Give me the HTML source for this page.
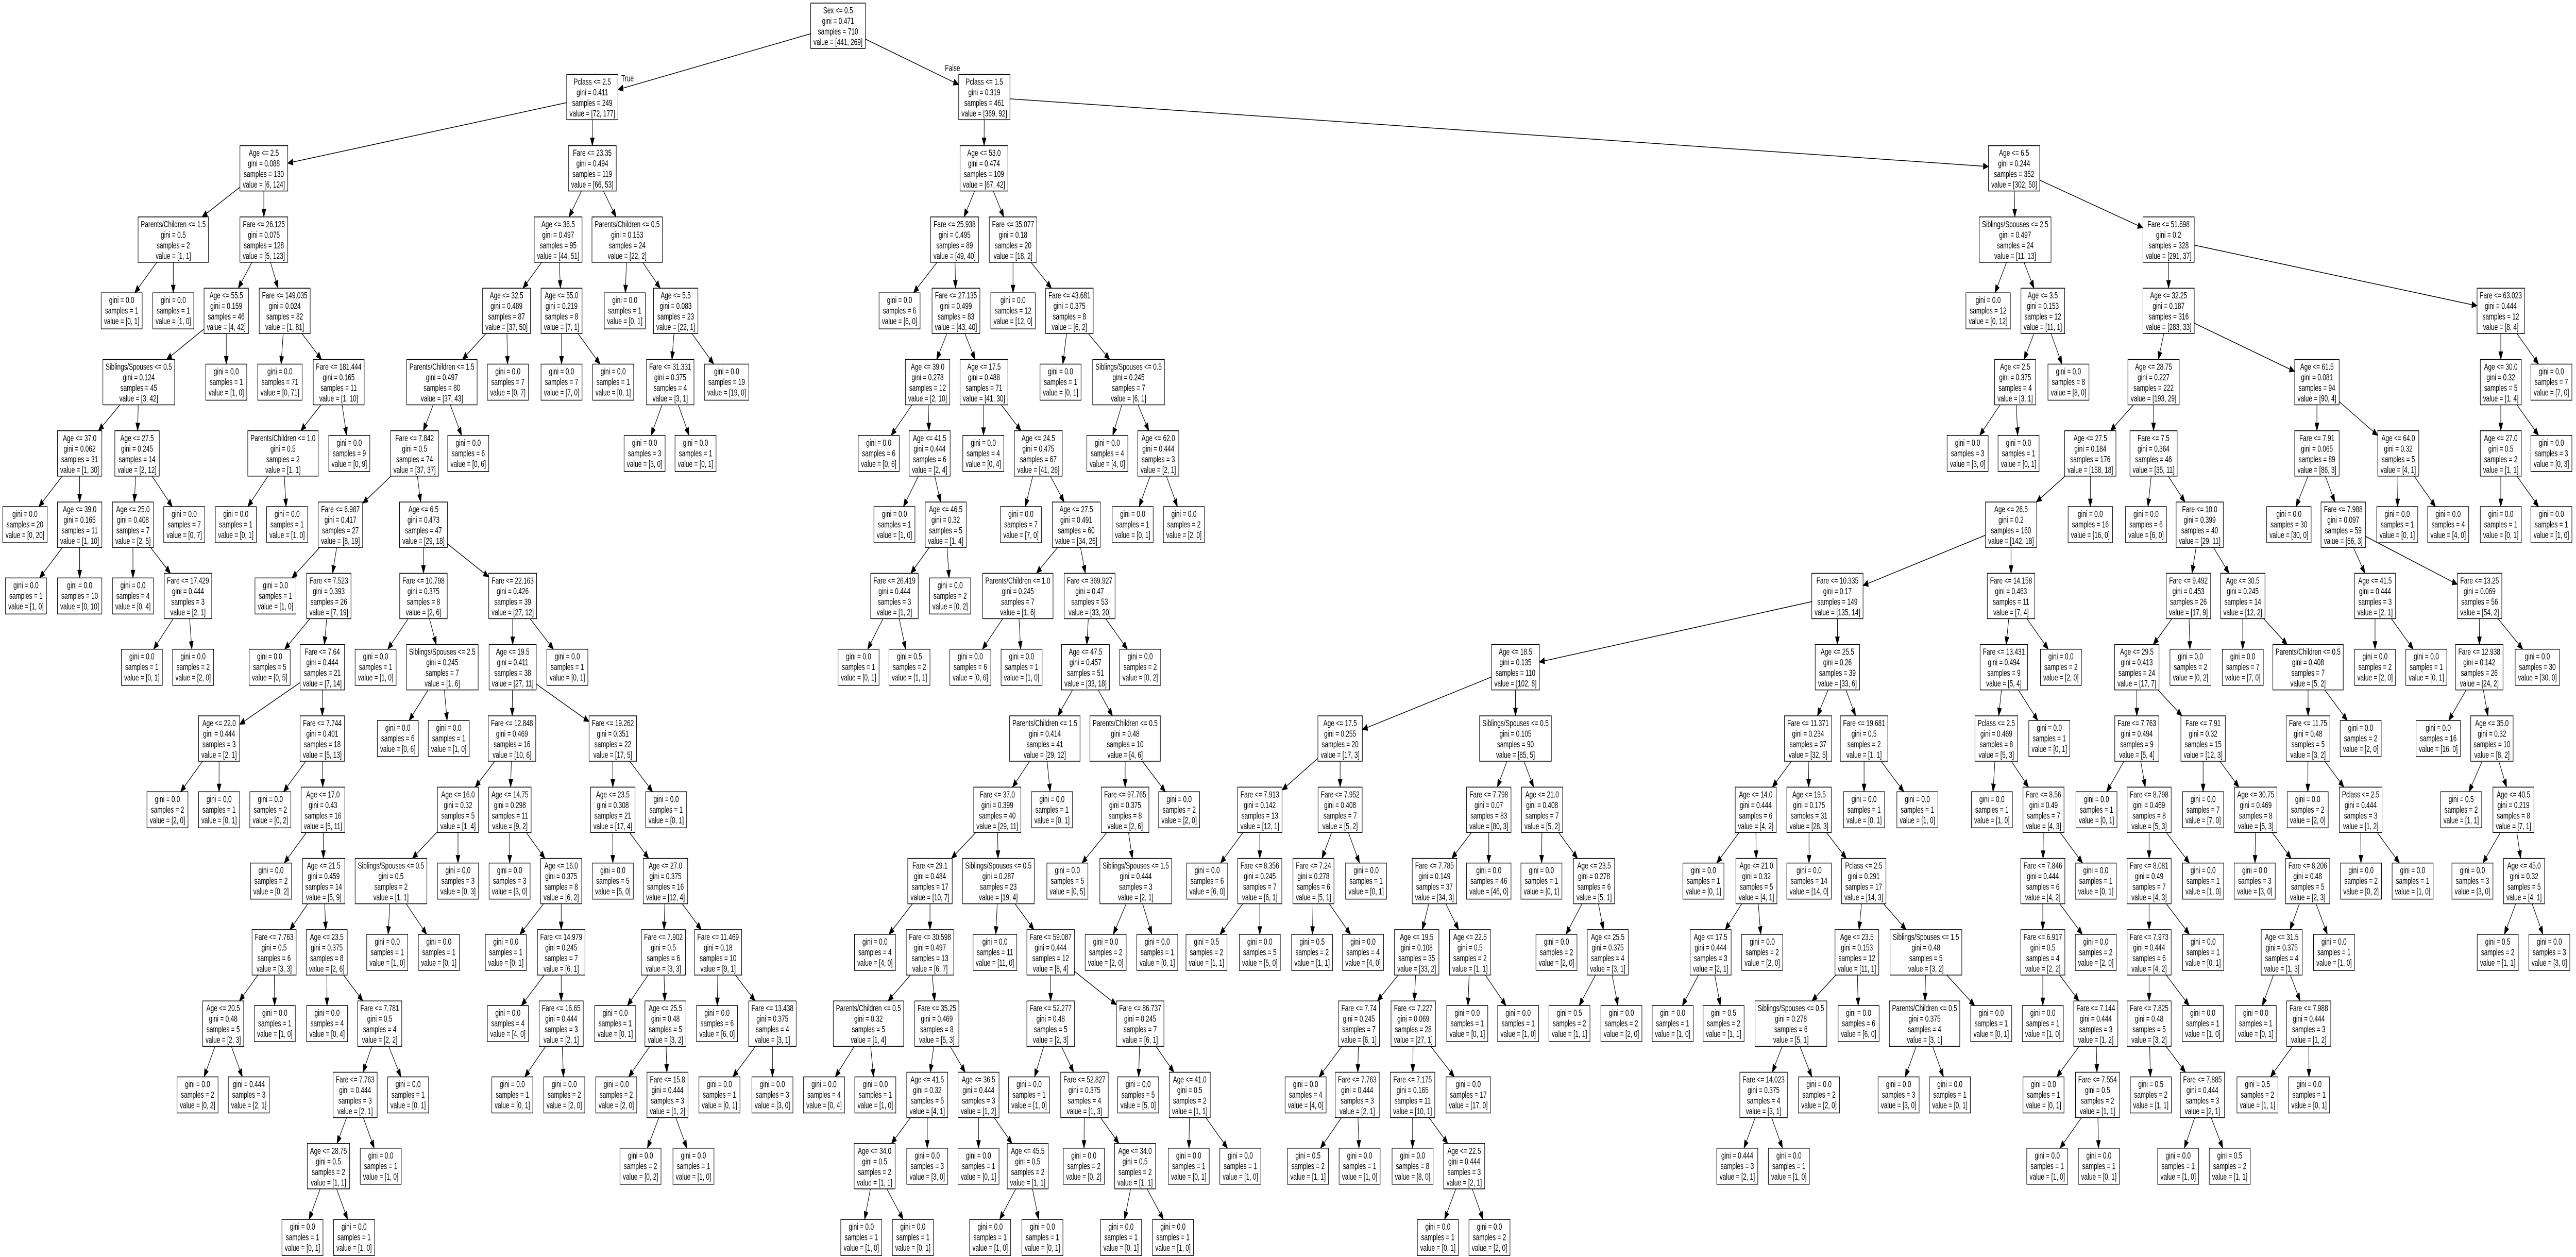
<!DOCTYPE html>
<html><head><meta charset="utf-8">
<style>
html,body{margin:0;padding:0;background:#fff;width:100%;height:100%;overflow:hidden;}
svg{display:block;position:fixed;left:0;top:0;width:100vw;height:100vh;}
text{font-family:"Liberation Sans",Arial,sans-serif;font-size:18px;fill:#000;}
</style></head>
<body>
<svg id="s" xmlns="http://www.w3.org/2000/svg" viewBox="0 0 7537 2439" preserveAspectRatio="none">
<rect x="0" y="0" width="7537" height="2439" fill="#fff"/>
<g id="E"></g><g id="N"></g>
<text x="1818" y="158">True</text>
<text x="2765" y="138">False</text>
</svg>
<script>
var A=function(o){return Math.round(o*1.212);};
var P=[];
function n(d,x,lab,g,s,v){P.push({d:d,x:x,lines:[lab,'gini = '+g,'samples = '+s,'value = ['+v+']']});}
function l(d,x,s,v,g){P.push({d:d,x:x,lines:['gini = '+(g||'0.0'),'samples = '+s,'value = ['+v+']']});}
n(0,2452,'Sex <= 0.5','0.471',710,'441, 269');
n(1,1733,'Pclass <= 2.5','0.411',249,'72, 177');
n(2,A(637),'Age <= 2.5','0.088',130,'6, 124');
n(3,A(418),'Parents/Children <= 1.5','0.5',2,'1, 1');
l(4,A(294),1,'0, 1');l(4,A(418),1,'1, 0');
n(3,A(637),'Fare <= 26.125','0.075',128,'5, 123');
n(4,A(546),'Age <= 55.5','0.159',46,'4, 42');
n(5,A(335),'Siblings/Spouses <= 0.5','0.124',45,'3, 42');
n(6,A(192),'Age <= 37.0','0.062',31,'1, 30');
l(7,A(60),20,'0, 20');
n(7,A(192),'Age <= 39.0','0.165',11,'1, 10');
l(8,A(63),1,'1, 0');l(8,A(192),10,'0, 10');
n(6,A(331),'Age <= 27.5','0.245',14,'2, 12');
n(7,A(321),'Age <= 25.0','0.408',7,'2, 5');
l(8,A(321),4,'0, 4');
n(8,A(454),'Fare <= 17.429','0.444',3,'2, 1');
l(9,A(342),1,'0, 1');l(9,A(466),2,'2, 0');
l(7,A(445),7,'0, 7');
l(5,A(546),1,'1, 0');
n(4,A(687),'Fare <= 149.035','0.024',82,'1, 81');
l(5,A(676),71,'0, 71');
n(5,A(818),'Fare <= 181.444','0.165',11,'1, 10');
n(6,A(683),'Parents/Children <= 1.0','0.5',2,'1, 1');
l(7,A(569),1,'0, 1');l(7,A(693),1,'1, 0');
l(6,A(843),9,'0, 9');
n(2,A(1430),'Fare <= 23.35','0.494',119,'66, 53');
n(3,A(1347),'Age <= 36.5','0.497',95,'44, 51');
n(4,A(1223),'Age <= 32.5','0.489',87,'37, 50');
n(5,A(1067),'Parents/Children <= 1.5','0.497',80,'37, 43');
n(6,A(1001),'Fare <= 7.842','0.5',74,'37, 37');
n(7,A(822),'Fare <= 6.987','0.417',27,'8, 19');
l(8,A(665),1,'1, 0');
n(8,A(794),'Fare <= 7.523','0.393',26,'7, 19');
l(9,A(651),5,'0, 5');
n(9,A(778),'Fare <= 7.64','0.444',21,'7, 14');
n(10,A(529),'Age <= 22.0','0.444',3,'2, 1');
l(11,A(404),2,'2, 0');l(11,A(529),1,'0, 1');
n(10,A(778),'Fare <= 7.744','0.401',18,'5, 13');
l(11,A(653),2,'0, 2');
n(11,A(780),'Age <= 17.0','0.43',16,'5, 11');
l(12,A(654),2,'0, 2');
n(12,A(781),'Age <= 21.5','0.459',14,'5, 9');
n(13,A(662),'Fare <= 7.763','0.5',6,'3, 3');
n(14,A(539),'Age <= 20.5','0.48',5,'2, 3');
l(15,A(477),2,'0, 2');l(15,A(601),3,'2, 1','0.444');
l(14,A(663),1,'1, 0');
n(13,A(789),'Age <= 23.5','0.375',8,'2, 6');
l(14,A(790),4,'0, 4');
n(14,A(917),'Fare <= 7.781','0.5',4,'2, 2');
n(15,A(857),'Fare <= 7.763','0.444',3,'2, 1');
n(16,A(793),'Age <= 28.75','0.5',2,'1, 1');
l(17,A(730),1,'0, 1');l(17,A(855),1,'1, 0');
l(16,A(919),1,'1, 0');
l(15,A(985),1,'0, 1');
n(7,A(1022),'Age <= 6.5','0.473',47,'29, 18');
n(8,A(1022),'Fare <= 10.798','0.375',8,'2, 6');
l(9,A(907),1,'1, 0');
n(9,A(1068),'Siblings/Spouses <= 2.5','0.245',7,'1, 6');
l(10,A(960),6,'0, 6');l(10,A(1083),1,'1, 0');
n(8,A(1238),'Fare <= 22.163','0.426',39,'27, 12');
n(9,A(1238),'Age <= 19.5','0.411',38,'27, 11');
n(10,A(1236),'Fare <= 12.848','0.469',16,'10, 6');
n(11,A(1106),'Age <= 16.0','0.32',5,'1, 4');
n(12,A(944),'Siblings/Spouses <= 0.5','0.5',2,'1, 1');
l(13,A(935),1,'1, 0');l(13,A(1059),1,'0, 1');
l(12,A(1106),3,'0, 3');
n(11,A(1231),'Age <= 14.75','0.298',11,'9, 2');
l(12,A(1230),3,'3, 0');
n(12,A(1355),'Age <= 16.0','0.375',8,'6, 2');
l(13,A(1221),1,'0, 1');
n(13,A(1355),'Fare <= 14.979','0.245',7,'6, 1');
l(14,A(1226),4,'4, 0');
n(14,A(1355),'Fare <= 16.65','0.444',3,'2, 1');
l(15,A(1237),1,'0, 1');l(15,A(1362),2,'2, 0');
n(10,A(1479),'Fare <= 19.262','0.351',22,'17, 5');
n(11,A(1479),'Age <= 23.5','0.308',21,'17, 4');
l(12,A(1479),5,'5, 0');
n(12,1947,'Age <= 27.0','0.375',16,'12, 4');
n(13,1941,'Fare <= 7.902','0.5',6,'3, 3');
l(14,1800,1,'0, 1');
n(14,1947,'Age <= 25.5','0.48',5,'3, 2');
l(15,1803,2,'2, 0');
n(15,1953,'Fare <= 15.8','0.444',3,'1, 2');
l(16,1874,2,'0, 2');l(16,2029,1,'1, 0');
n(13,2101,'Fare <= 11.469','0.18',10,'9, 1');
l(14,2098,6,'6, 0');
n(14,2260,'Fare <= 13.438','0.375',4,'3, 1');
l(15,2105,1,'0, 1');l(15,2260,3,'3, 0');
l(11,1949,1,'0, 1');
l(9,A(1370),1,'0, 1');
l(6,A(1130),6,'0, 6');
l(5,A(1226),7,'0, 7');
n(4,A(1356),'Age <= 55.0','0.219',8,'7, 1');
l(5,A(1356),7,'7, 0');l(5,A(1480),1,'0, 1');
n(3,1835,'Parents/Children <= 0.5','0.153',24,'22, 2');
l(4,1828,1,'0, 1');
n(4,1977,'Age <= 5.5','0.083',23,'22, 1');
n(5,1961,'Fare <= 31.331','0.375',4,'3, 1');
l(6,1886,3,'3, 0');l(6,2035,1,'0, 1');
l(5,2126,19,'19, 0');
n(1,2880,'Pclass <= 1.5','0.319',461,'369, 92');
n(2,2879,'Age <= 53.0','0.474',109,'67, 42');
n(3,2793,'Fare <= 25.938','0.495',89,'49, 40');
l(4,2632,6,'6, 0');
n(4,2797,'Fare <= 27.135','0.499',83,'43, 40');
n(5,2714,'Age <= 39.0','0.278',12,'2, 10');
l(6,2571,6,'0, 6');
n(6,2720,'Age <= 41.5','0.444',6,'2, 4');
l(7,2617,1,'1, 0');
n(7,2767,'Age <= 46.5','0.32',5,'1, 4');
n(8,2617,'Fare <= 26.419','0.444',3,'1, 2');
l(9,2512,1,'0, 1');l(9,2661,2,'1, 1','0.5');
l(8,2780,2,'0, 2');
n(5,2879,'Age <= 17.5','0.488',71,'41, 30');
l(6,2877,4,'0, 4');
n(6,3038,'Age <= 24.5','0.475',67,'41, 26');
l(7,2987,7,'7, 0');
n(7,3149,'Age <= 27.5','0.491',60,'34, 26');
n(8,2978,'Parents/Children <= 1.0','0.245',7,'1, 6');
l(9,2839,6,'0, 6');l(9,2989,1,'1, 0');
n(8,3188,'Fare <= 369.927','0.47',53,'33, 20');
n(9,3176,'Age <= 47.5','0.457',51,'33, 18');
n(10,3057,'Parents/Children <= 1.5','0.414',41,'29, 12');
n(11,2918,'Fare <= 37.0','0.399',40,'29, 11');
n(12,2721,'Fare <= 29.1','0.484',17,'10, 7');
l(13,2560,4,'4, 0');
n(13,2721,'Fare <= 30.598','0.497',13,'6, 7');
n(14,2541,'Parents/Children <= 0.5','0.32',5,'1, 4');
l(15,2411,4,'0, 4');l(15,2561,1,'1, 0');
n(14,2741,'Fare <= 35.25','0.469',8,'5, 3');
n(15,2713,'Age <= 41.5','0.32',5,'4, 1');
n(16,2559,'Age <= 34.0','0.5',2,'1, 1');
l(17,2520,1,'1, 0');l(17,2671,1,'0, 1');
l(16,2713,3,'3, 0');
n(15,2863,'Age <= 36.5','0.444',3,'1, 2');
l(16,2863,1,'0, 1');
n(16,3007,'Age <= 45.5','0.5',2,'1, 1');
l(17,2897,1,'1, 0');l(17,3050,1,'0, 1');
n(12,2921,'Siblings/Spouses <= 0.5','0.287',23,'19, 4');
l(13,2911,11,'11, 0');
n(13,3074,'Fare <= 59.087','0.444',12,'8, 4');
n(14,3074,'Fare <= 52.277','0.48',5,'2, 3');
l(15,3011,1,'1, 0');
n(15,3173,'Fare <= 52.827','0.375',4,'1, 3');
l(16,3171,2,'0, 2');
n(16,3321,'Age <= 34.0','0.5',2,'1, 1');
l(17,3280,1,'0, 1');l(17,3432,1,'1, 0');
n(14,3336,'Fare <= 86.737','0.245',7,'6, 1');
l(15,3330,5,'5, 0');
n(15,3481,'Age <= 41.0','0.5',2,'1, 1');
l(16,3478,1,'0, 1');l(16,3629,1,'1, 0');
l(11,3078,1,'0, 1');
n(10,3292,'Parents/Children <= 0.5','0.48',10,'4, 6');
n(11,3292,'Fare <= 97.765','0.375',8,'2, 6');
l(12,3123,5,'0, 5');
n(12,3323,'Siblings/Spouses <= 1.5','0.444',3,'2, 1');
l(13,3235,2,'2, 0');l(13,3386,1,'0, 1');
l(11,3450,2,'2, 0');
l(9,3336,2,'0, 2');
n(3,2964,'Fare <= 35.077','0.18',20,'18, 2');
l(4,2964,12,'12, 0');
n(4,3129,'Fare <= 43.681','0.375',8,'6, 2');
l(5,3103,1,'0, 1');
n(5,3302,'Siblings/Spouses <= 0.5','0.245',7,'6, 1');
l(6,3240,4,'4, 0');
n(6,3389,'Age <= 62.0','0.444',3,'2, 1');
l(7,3314,1,'0, 1');l(7,3464,2,'2, 0');
n(2,5893,'Age <= 6.5','0.244',352,'302, 50');
n(3,5896,'Siblings/Spouses <= 2.5','0.497',24,'11, 13');
l(4,5817,12,'0, 12');
n(4,5977,'Age <= 3.5','0.153',12,'11, 1');
n(5,5896,'Age <= 2.5','0.375',4,'3, 1');
l(6,5757,3,'3, 0');l(6,5906,1,'0, 1');
l(5,6052,8,'8, 0');
n(3,6345,'Fare <= 51.698','0.2',328,'291, 37');
n(4,6345,'Age <= 32.25','0.187',316,'283, 33');
n(5,6301,'Age <= 28.75','0.227',222,'193, 29');
n(6,6116,'Age <= 27.5','0.184',176,'158, 18');
n(7,5884,'Age <= 26.5','0.2',160,'142, 18');
n(8,5376,'Fare <= 10.335','0.17',149,'135, 14');
n(9,4434,'Age <= 18.5','0.135',110,'102, 8');
n(10,3921,'Age <= 17.5','0.255',20,'17, 3');
n(11,3686,'Fare <= 7.913','0.142',13,'12, 1');
l(12,3532,6,'6, 0');
n(12,3686,'Fare <= 8.356','0.245',7,'6, 1');
l(13,3530,2,'1, 1','0.5');l(13,3686,5,'5, 0');
n(11,3921,'Fare <= 7.952','0.408',7,'5, 2');
n(12,3843,'Fare <= 7.24','0.278',6,'5, 1');
l(13,3839,2,'1, 1','0.5');l(13,3988,4,'4, 0');
l(12,3997,1,'0, 1');
n(10,4434,'Siblings/Spouses <= 0.5','0.105',90,'85, 5');
n(11,4356,'Fare <= 7.798','0.07',83,'80, 3');
n(12,4197,'Fare <= 7.785','0.149',37,'34, 3');
n(13,4145,'Age <= 19.5','0.108',35,'33, 2');
n(14,3976,'Fare <= 7.74','0.245',7,'6, 1');
l(15,3820,4,'4, 0');
n(15,3971,'Fare <= 7.763','0.444',3,'2, 1');
l(16,3827,2,'1, 1','0.5');l(16,3978,1,'1, 0');
n(14,4135,'Fare <= 7.227','0.069',28,'27, 1');
n(15,4133,'Fare <= 7.175','0.165',11,'10, 1');
l(16,4133,8,'8, 0');
n(16,4284,'Age <= 22.5','0.444',3,'2, 1');
l(17,4207,1,'0, 1');l(17,4358,2,'2, 0');
l(15,4296,17,'17, 0');
n(13,4301,'Age <= 22.5','0.5',2,'1, 1');
l(14,4293,1,'0, 1');l(14,4442,1,'1, 0');
l(12,4356,46,'46, 0');
n(11,4512,'Age <= 21.0','0.408',7,'5, 2');
l(12,4510,1,'0, 1');
n(12,4664,'Age <= 23.5','0.278',6,'5, 1');
l(13,4554,2,'2, 0');
n(13,4704,'Age <= 25.5','0.375',4,'3, 1');
l(14,4592,2,'1, 1','0.5');l(14,4744,2,'2, 0');
n(9,5376,'Age <= 25.5','0.26',39,'33, 6');
n(10,5290,'Fare <= 11.371','0.234',37,'32, 5');
n(11,5137,'Age <= 14.0','0.444',6,'4, 2');
l(12,4984,1,'0, 1');
n(12,5139,'Age <= 21.0','0.32',5,'4, 1');
n(13,5005,'Age <= 17.5','0.444',3,'2, 1');
l(14,4894,1,'1, 0');l(14,5043,2,'1, 1','0.5');
l(13,5156,2,'2, 0');
n(11,5293,'Age <= 19.5','0.175',31,'28, 3');
l(12,5293,14,'14, 0');
n(12,5453,'Pclass <= 2.5','0.291',17,'14, 3');
n(13,5433,'Age <= 23.5','0.153',12,'11, 1');
n(14,5240,'Siblings/Spouses <= 0.5','0.278',6,'5, 1');
n(15,5160,'Fare <= 14.023','0.375',4,'3, 1');
l(16,5083,3,'2, 1','0.444');l(16,5234,1,'1, 0');
l(15,5322,2,'2, 0');
l(14,5438,6,'6, 0');
n(13,5635,'Siblings/Spouses <= 1.5','0.48',5,'3, 2');
n(14,5631,'Parents/Children <= 0.5','0.375',4,'3, 1');
l(15,5555,3,'3, 0');l(15,5705,1,'0, 1');
l(14,5826,1,'0, 1');
n(10,5454,'Fare <= 19.681','0.5',2,'1, 1');
l(11,5454,1,'0, 1');l(11,5610,1,'1, 0');
n(8,5884,'Fare <= 14.158','0.463',11,'7, 4');
n(9,5863,'Fare <= 13.431','0.494',9,'5, 4');
n(10,5841,'Pclass <= 2.5','0.469',8,'5, 3');
l(11,5828,1,'1, 0');
n(11,5979,'Fare <= 8.56','0.49',7,'4, 3');
n(12,5977,'Fare <= 7.846','0.444',6,'4, 2');
n(13,5977,'Fare <= 6.917','0.5',4,'2, 2');
l(14,5977,1,'1, 0');
n(14,6132,'Fare <= 7.144','0.444',3,'1, 2');
l(15,5979,1,'0, 1');
n(15,6137,'Fare <= 7.554','0.5',2,'1, 1');
l(16,5990,1,'1, 0');l(16,6141,1,'0, 1');
l(13,6132,2,'2, 0');
l(12,6132,1,'0, 1');
l(10,5996,1,'0, 1');
l(9,6030,2,'2, 0');
l(7,6116,16,'16, 0');
n(6,6301,'Fare <= 7.5','0.364',46,'35, 11');
l(7,6279,6,'6, 0');
n(7,6436,'Fare <= 10.0','0.399',40,'29, 11');
n(8,6403,'Fare <= 9.492','0.453',26,'17, 9');
n(9,6252,'Age <= 29.5','0.413',24,'17, 7');
n(10,6252,'Fare <= 7.763','0.494',9,'5, 4');
l(11,6134,1,'0, 1');
n(11,6288,'Fare <= 8.798','0.469',8,'5, 3');
n(12,6288,'Fare <= 8.081','0.49',7,'4, 3');
n(13,6288,'Fare <= 7.973','0.444',6,'4, 2');
n(14,6288,'Fare <= 7.825','0.48',5,'3, 2');
l(15,6293,2,'1, 1','0.5');
n(15,6444,'Fare <= 7.885','0.444',3,'2, 1');
l(16,6373,1,'1, 0');l(16,6524,2,'1, 1','0.5');
l(14,6445,1,'1, 0');
l(13,6446,1,'0, 1');
l(12,6446,1,'1, 0');
n(10,6446,'Fare <= 7.91','0.32',15,'12, 3');
l(11,6446,7,'7, 0');
n(11,6600,'Age <= 30.75','0.469',8,'5, 3');
l(12,6597,3,'3, 0');
n(12,6752,'Fare <= 8.206','0.48',5,'2, 3');
n(13,6676,'Age <= 31.5','0.375',4,'1, 3');
l(14,6600,1,'0, 1');
n(14,6755,'Fare <= 7.988','0.444',3,'1, 2');
l(15,6605,2,'1, 1','0.5');l(15,6756,1,'0, 1');
l(13,6829,1,'1, 0');
l(9,6409,2,'0, 2');
n(8,6562,'Age <= 30.5','0.245',14,'12, 2');
l(9,6562,7,'7, 0');
n(9,6753,'Parents/Children <= 0.5','0.408',7,'5, 2');
n(10,6753,'Fare <= 11.75','0.48',5,'3, 2');
l(11,6752,2,'2, 0');
n(11,6907,'Pclass <= 2.5','0.444',3,'1, 2');
l(12,6908,2,'0, 2');l(12,7059,1,'1, 0');
l(10,6907,2,'2, 0');
n(5,6779,'Age <= 61.5','0.081',94,'90, 4');
n(6,6779,'Fare <= 7.91','0.065',89,'86, 3');
l(7,6697,30,'30, 0');
n(7,6856,'Fare <= 7.988','0.097',59,'56, 3');
n(8,6949,'Age <= 41.5','0.444',3,'2, 1');
l(9,6949,2,'2, 0');l(9,7099,1,'0, 1');
n(8,7255,'Fare <= 13.25','0.069',56,'54, 2');
n(9,7254,'Fare <= 12.938','0.142',26,'24, 2');
l(10,7134,16,'16, 0');
n(10,7291,'Age <= 35.0','0.32',10,'8, 2');
l(11,7201,2,'1, 1','0.5');
n(11,7354,'Age <= 40.5','0.219',8,'7, 1');
l(12,7234,3,'3, 0');
n(12,7385,'Age <= 45.0','0.32',5,'4, 1');
l(13,7308,2,'1, 1','0.5');l(13,7459,3,'3, 0');
l(9,7424,30,'30, 0');
n(6,7017,'Age <= 64.0','0.32',5,'4, 1');
l(7,7014,1,'0, 1');l(7,7163,4,'4, 0');
n(4,7317,'Fare <= 63.023','0.444',12,'8, 4');
n(5,7317,'Age <= 30.0','0.32',5,'1, 4');
n(6,7317,'Age <= 27.0','0.5',2,'1, 1');
l(7,7317,1,'0, 1');l(7,7465,1,'1, 0');
l(6,7465,3,'0, 3');
l(5,7465,7,'7, 0');

var NS='http://www.w3.org/2000/svg';
var gN=document.getElementById('N'),gE=document.getElementById('E');
function el(t,a,p){var e=document.createElementNS(NS,t);for(var k in a)e.setAttribute(k,a[k]);p.appendChild(e);return e;}
var stack=[];
P.forEach(function(o){
  o.cy=50+138.3*o.d;
  o.h=o.lines.length==4?88:70;
  var top=o.cy-o.h/2;
  var g=el('g',{},gN);
  var r=el('rect',{x:0,y:top,width:10,height:o.h,fill:'#fff',stroke:'#000','stroke-width':1.5},g);
  var mw=0,tx=[];
  o.lines.forEach(function(t,i){
    var e=el('text',{x:o.x,y:top+20+i*20.5,'text-anchor':'middle'},g);
    e.textContent=t;tx.push(e);
    var w=0;try{w=e.getComputedTextLength();}catch(err){}
    if(!w)w=t.length*9;
    if(w>mw)mw=w;
  });
  o.w=Math.round(mw+16);
  if(o.x+o.w/2>7533){o.x=7533-o.w/2;tx.forEach(function(e){e.setAttribute('x',o.x);});}
  if(o.x-o.w/2<3){o.x=3+o.w/2;tx.forEach(function(e){e.setAttribute('x',o.x);});}
  r.setAttribute('x',o.x-o.w/2);r.setAttribute('width',o.w);
  stack[o.d]=o;
  if(o.d>0){o.p=stack[o.d-1];}
});
function clip(b,dx,dy){
  var hw=b.w/2,hh=b.h/2;
  var tx=dx!==0?hw/Math.abs(dx):1e9,ty=dy!==0?hh/Math.abs(dy):1e9;
  var t=Math.min(tx,ty);return [b.x+dx*t,b.cy+dy*t];
}
P.forEach(function(o){
  if(!o.p)return;var p=o.p;
  var dx=o.x-p.x,dy=o.cy-p.cy;
  var s=clip(p,dx,dy),e=clip(o,-dx,-dy);
  var vx=e[0]-s[0],vy=e[1]-s[1],L=Math.sqrt(vx*vx+vy*vy);var ux=vx/L,uy=vy/L;
  var al=15,aw=6;
  var bx=e[0]-ux*al,by=e[1]-uy*al;
  el('line',{x1:s[0],y1:s[1],x2:bx,y2:by,stroke:'#000','stroke-width':1.5},gE);
  el('polygon',{points:e[0]+','+e[1]+' '+(bx-uy*aw)+','+(by+ux*aw)+' '+(bx+uy*aw)+','+(by-ux*aw),fill:'#000',stroke:'#000'},gE);
});
</script>
</body></html>
